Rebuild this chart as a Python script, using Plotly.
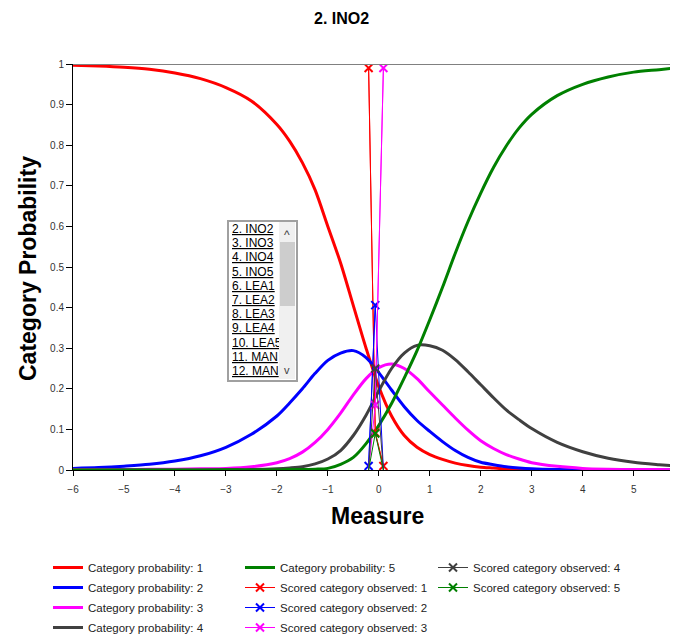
import plotly.graph_objects as go

# ---------------- data ----------------
measure = [-6, -5.5, -5, -4.5, -4, -3.5, -3, -2.5, -2, -1.75, -1.5, -1.25, -1, -0.75,
           -0.5, -0.25, 0, 0.25, 0.5, 0.75, 1, 1.25, 1.5, 1.75, 2, 2.25, 2.5, 2.75, 3,
           3.5, 4, 4.5, 5, 5.5, 5.9]
prob_1 = [0.997, 0.995, 0.992, 0.987, 0.978, 0.964, 0.942, 0.909, 0.851, 0.81, 0.757,
          0.69, 0.6, 0.51, 0.405, 0.3, 0.205, 0.133, 0.085, 0.056, 0.038, 0.026, 0.017,
          0.011, 0.007, 0.005, 0.003, 0.002, 0.001, 0.0, 0.0, 0.0, 0.0, 0.0, 0.0]
prob_2 = [0.004, 0.006, 0.0095, 0.014, 0.022, 0.035, 0.056, 0.088, 0.133, 0.165, 0.2,
          0.238, 0.27, 0.288, 0.294, 0.277, 0.24, 0.197, 0.156, 0.122, 0.095, 0.07,
          0.048, 0.031, 0.019, 0.013, 0.008, 0.005, 0.003, 0.001, 0.0, 0.0, 0.0, 0.0, 0.0]
prob_3 = [0.001, 0.001, 0.001, 0.002, 0.002, 0.003, 0.004, 0.008, 0.018, 0.028, 0.044,
          0.068, 0.1, 0.14, 0.185, 0.225, 0.252, 0.261, 0.25, 0.225, 0.192, 0.16, 0.128,
          0.098, 0.072, 0.053, 0.038, 0.027, 0.018, 0.009, 0.004, 0.002, 0.001, 0.001, 0.0]
prob_4 = [0.0, 0.0, 0.0, 0.0, 0.0, 0.0, 0.001, 0.001, 0.003, 0.005, 0.008, 0.015, 0.027,
          0.048, 0.085, 0.135, 0.195, 0.25, 0.288, 0.307, 0.306, 0.295, 0.272, 0.242,
          0.21, 0.178, 0.148, 0.124, 0.102, 0.068, 0.045, 0.029, 0.019, 0.013, 0.009]
prob_5 = [0.0, 0.0, 0.0, 0.0, 0.0, 0.0, 0.0, 0.0, 0.0, 0.001, 0.001, 0.002, 0.004, 0.014,
          0.031, 0.065, 0.11, 0.164, 0.227, 0.294, 0.37, 0.45, 0.534, 0.612, 0.682,
          0.745, 0.798, 0.842, 0.876, 0.922, 0.95, 0.968, 0.98, 0.986, 0.991]

obs_measure = [-0.2, -0.07, 0.09]
obs_1 = [0.99, 0.092, 0.01]
obs_2 = [0.01, 0.406, 0.0]
obs_3 = [0.0, 0.16, 0.99]
obs_4 = [0.0, 0.25, 0.0]
obs_5 = [0.0, 0.09, 0.0]

categories = ["1", "2", "3", "4", "5"]
colors = ["#ff0000", "#0000ff", "#ff00ff", "#404040", "#008000"]
item_list = ["2. INO2", "3. INO3", "4. INO4", "5. INO5", "6. LEA1", "7. LEA2",
             "8. LEA3", "9. LEA4", "10. LEA5", "11. MAN", "12. MAN"]
x_ticks = [-6, -5, -4, -3, -2, -1, 0, 1, 2, 3, 4, 5]
y_ticks = [0, 0.1, 0.2, 0.3, 0.4, 0.5, 0.6, 0.7, 0.8, 0.9, 1]
title_text = "2. INO2"

# ---------------- layout geometry (window pixels; page body has 8px margin) ----------------
OFF = 8
W, H = 678 - OFF, 634 - OFF
L, R, T = 73 - OFF, 0, 64 - OFF
B = H - (470 - OFF)
PW, PH = W - L - R, H - T - B


def px(x):
    return (x - OFF - L) / PW


def py(y):
    return (H - B - (y - OFF)) / PH


FONT = "Arial, Liberation Sans, sans-serif"
fig = go.Figure()

model = [prob_1, prob_2, prob_3, prob_4, prob_5]
legends_model = ["legend", "legend", "legend", "legend", "legend2"]
for i, ys in enumerate(model):
    fig.add_trace(go.Scatter(
        x=measure, y=ys, mode="lines",
        line=dict(color=colors[i], width=3, shape="spline", smoothing=0.8),
        name="Category probability: " + categories[i], legend=legends_model[i],
        legendgroup="m" + categories[i]))

obs = [obs_1, obs_2, obs_3, obs_4, obs_5]
legends_obs = ["legend2", "legend2", "legend2", "legend3", "legend3"]
for i, ys in enumerate(obs):
    # full empirical polyline
    fig.add_trace(go.Scatter(
        x=obs_measure, y=ys, mode="lines", line=dict(color=colors[i], width=1),
        showlegend=False, legendgroup="o" + categories[i], hoverinfo="skip"))
    # observed (non-empty) points with X markers
    xs_nz = [x for x, v in zip(obs_measure, ys) if v > 0]
    ys_nz = [v for v in ys if v > 0]
    fig.add_trace(go.Scatter(
        x=xs_nz, y=ys_nz, mode="lines+markers",
        line=dict(color=colors[i], width=1),
        marker=dict(symbol="x-thin", size=8, line=dict(width=2, color=colors[i])),
        name="Scored category observed: " + categories[i], legend=legends_obs[i],
        legendgroup="o" + categories[i]))

shapes = [dict(type="line", xref="paper", yref="y", x0=0, x1=1, y0=1, y1=1,
               line=dict(color="#808080", width=2)),
          dict(type="rect", xref="paper", yref="paper", x0=px(228), x1=px(297),
               y0=py(381), y1=py(221), fillcolor="white",
               line=dict(color="#a0a0a0", width=2), layer="above")]

annotations = []
annotations.append(dict(text="<b>" + title_text + "</b>", xref="paper", yref="paper",
                        x=px(341), y=py(18), xanchor="center", yanchor="middle", showarrow=False,
                        font=dict(family=FONT, size=16, color="black")))
annotations.append(dict(text="<b>Category Probability</b>", xref="paper", yref="paper",
                        x=px(28), y=py(269), xanchor="center", yanchor="middle", textangle=-90,
                        showarrow=False, font=dict(family=FONT, size=23, color="black")))
annotations.append(dict(text="<b>Measure</b>", xref="paper", yref="paper",
                        x=px(377), y=py(516), xanchor="center", yanchor="middle",
                        showarrow=False, font=dict(family=FONT, size=23, color="black")))
for k, it in enumerate(item_list):
    annotations.append(dict(text="<u>" + it + "</u>", xref="paper", yref="paper",
                            x=px(230), y=py(229 + k * 14.2), xanchor="left", yanchor="middle",
                            showarrow=False, font=dict(family=FONT, size=12, color="black")))
# scrollbar track, thumb and arrows (drawn as annotations so they cover clipped item text)
annotations.append(dict(text="", xref="paper", yref="paper", x=px(279), y=py(222),
                        xanchor="left", yanchor="top", width=16, height=157, bgcolor="#f0f0f0",
                        borderpad=0, borderwidth=0, showarrow=False))
annotations.append(dict(text="", xref="paper", yref="paper", x=px(279.5), y=py(242),
                        xanchor="left", yanchor="top", width=15, height=64, bgcolor="#cdcdcd",
                        borderpad=0, borderwidth=0, showarrow=False))
annotations.append(dict(text="^", xref="paper", yref="paper", x=px(287), y=py(235),
                        xanchor="center", yanchor="middle", showarrow=False,
                        font=dict(family=FONT, size=12, color="#404040")))
annotations.append(dict(text="v", xref="paper", yref="paper", x=px(287), y=py(370),
                        xanchor="center", yanchor="middle", showarrow=False,
                        font=dict(family=FONT, size=11, color="#404040")))

leg_common = dict(orientation="v", bgcolor="rgba(0,0,0,0)",
                  font=dict(family=FONT, size=11.5, color="#222"),
                  yanchor="top", xanchor="left", tracegroupgap=1, itemwidth=30)

fig.update_layout(
    width=W, height=H, margin=dict(l=L, r=R, t=T, b=B, autoexpand=False),
    paper_bgcolor="white", plot_bgcolor="white",
    showlegend=True,
    legend=dict(x=px(48), y=py(553), **leg_common),
    legend2=dict(x=px(240), y=py(553), **leg_common),
    legend3=dict(x=px(433), y=py(553), **leg_common),
    xaxis=dict(range=[-6, 5.87], tickvals=x_ticks, ticks="outside", ticklen=5, tickcolor="black",
               showline=True, linecolor="black", linewidth=1, showgrid=False, zeroline=False,
               ticklabelstandoff=5,
               tickfont=dict(family=FONT, size=10, color="#333"), fixedrange=True),
    yaxis=dict(range=[0, 1], tickvals=y_ticks, ticktext=[("%g" % v) for v in y_ticks],
               ticks="outside", ticklen=6, tickcolor="black",
               showline=True, linecolor="black", linewidth=1, showgrid=False, zeroline=False,
               tickfont=dict(family=FONT, size=10, color="#333"), fixedrange=True),
    shapes=shapes, annotations=annotations,
)

fig.write_html("out.html")
